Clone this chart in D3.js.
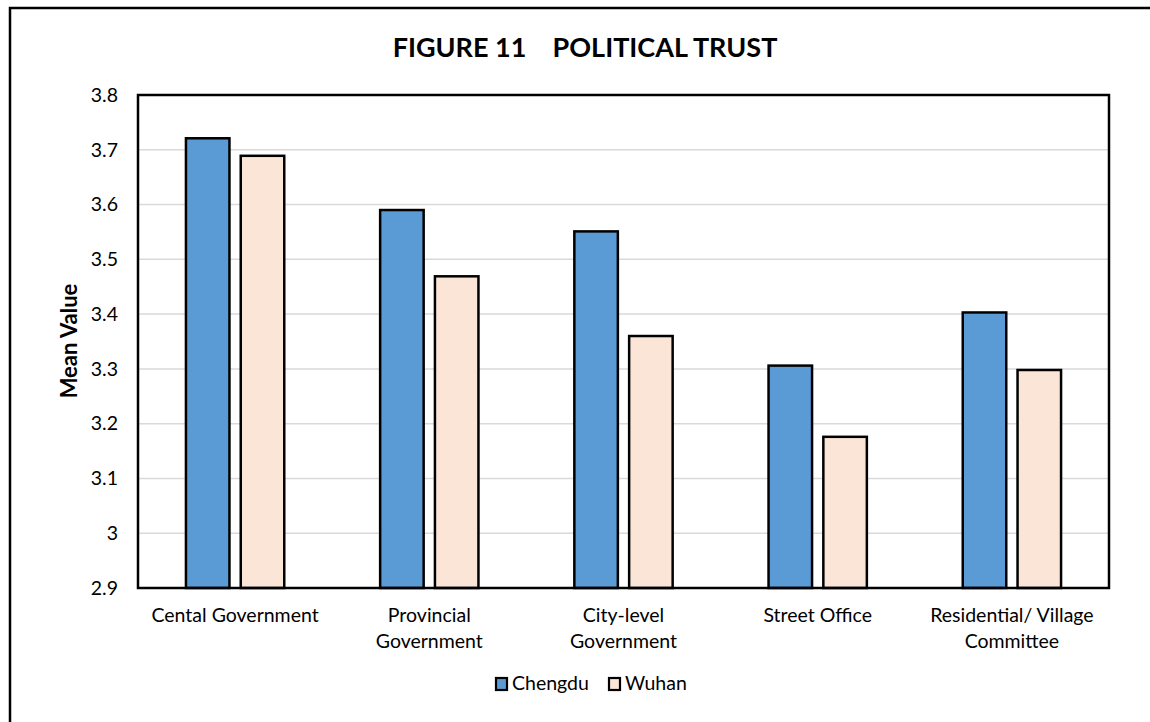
<!DOCTYPE html>
<html>
<head>
<meta charset="utf-8">
<script src="https://cdn.jsdelivr.net/npm/d3@7"></script>
<style>
  body { margin: 0; background: #fff; }
  svg { display: block; font-family: Lato, "Open Sans", sans-serif; }
</style>
</head>
<body>
<svg width="1150" height="722"></svg>
<script>
// data
var categories = ["Cental Government", "Provincial Government", "City-level Government", "Street Office", "Residential/ Village Committee"];
var catLines = [["Cental Government"], ["Provincial", "Government"], ["City-level", "Government"], ["Street Office"], ["Residential/ Village", "Committee"]];
var seriesNames = ["Chengdu", "Wuhan"];
var chengdu = [3.721, 3.590, 3.551, 3.306, 3.403];
var wuhan = [3.689, 3.469, 3.360, 3.176, 3.298];
var yTicks = [2.9, 3, 3.1, 3.2, 3.3, 3.4, 3.5, 3.6, 3.7, 3.8];
var colors = ["#5b9bd5", "#fbe5d6"];

var svg = d3.select("svg");

// outer frame (runs off the right and bottom of the page)
svg.append("rect")
  .attr("x", 10).attr("y", 8)
  .attr("width", 1160).attr("height", 740)
  .attr("fill", "none").attr("stroke", "#000").attr("stroke-width", 2.5);

var pLeft = 138, pRight = 1109, pTop = 95, pBottom = 588;

var x = d3.scaleBand().domain(categories).range([pLeft, pRight]);
var x1 = d3.scaleBand().domain(seriesNames).range([0, x.bandwidth()]).paddingInner(0.206).paddingOuter(0.875);
var y = d3.scaleLinear().domain([2.9, 3.8]).range([pBottom, pTop]);

// gridlines
svg.append("g")
  .selectAll("line")
  .data(yTicks)
  .enter().append("line")
    .attr("x1", pLeft).attr("x2", pRight)
    .attr("y1", function(d) { return y(d); })
    .attr("y2", function(d) { return y(d); })
    .attr("stroke", "#d9d9d9").attr("stroke-width", 1.5);

// y axis labels
var yAxis = d3.axisLeft(y).tickValues(yTicks).tickSize(0).tickPadding(20).tickFormat(d3.format("~g"));
var ya = svg.append("g").attr("transform", "translate(" + pLeft + ",0)").call(yAxis);
ya.select(".domain").remove();
ya.selectAll("text").attr("font-size", 19.5).attr("fill", "#000").style("font-family", "Lato, sans-serif");

// bars
var rows = categories.map(function(c, i) { return {cat: c, vals: [chengdu[i], wuhan[i]]}; });
var groups = svg.append("g").selectAll("g")
  .data(rows)
  .enter().append("g")
    .attr("transform", function(d) { return "translate(" + x(d.cat) + ",0)"; });

groups.selectAll("rect")
  .data(function(d) { return d.vals.map(function(v, j) { return {name: seriesNames[j], v: v, j: j}; }); })
  .enter().append("rect")
    .attr("x", function(d) { return x1(d.name); })
    .attr("width", x1.bandwidth())
    .attr("y", function(d) { return y(d.v); })
    .attr("height", function(d) { return y(2.9) - y(d.v); })
    .attr("fill", function(d) { return colors[d.j]; })
    .attr("stroke", "#000").attr("stroke-width", 2.5);

// plot border
svg.append("rect")
  .attr("x", pLeft).attr("y", pTop)
  .attr("width", pRight - pLeft).attr("height", pBottom - pTop)
  .attr("fill", "none").attr("stroke", "#000").attr("stroke-width", 2.5);

// category labels
svg.append("g").selectAll("text")
  .data(categories)
  .enter().append("text")
    .attr("x", function(d) { return x(d) + x.bandwidth() / 2; })
    .attr("y", 622)
    .attr("text-anchor", "middle")
    .attr("font-size", 19.5)
    .each(function(d, i) {
      var t = d3.select(this);
      catLines[i].forEach(function(line, k) {
        t.append("tspan").attr("x", x(d) + x.bandwidth() / 2).attr("dy", k === 0 ? 0 : 26).text(line);
      });
    });

// title
svg.append("text")
  .attr("x", 585).attr("y", 57)
  .attr("text-anchor", "middle")
  .attr("font-size", 27).attr("font-weight", "bold")
  .attr("xml:space", "preserve")
  .text("FIGURE 11    POLITICAL TRUST");

// y axis title
svg.append("text")
  .attr("transform", "translate(77,341) rotate(-90)")
  .attr("text-anchor", "middle")
  .attr("font-size", 22).attr("font-weight", "bold")
  .text("Mean Value");

// legend
var legend = svg.append("g").attr("transform", "translate(495,690)");
var lx = [0, 113];
seriesNames.forEach(function(name, i) {
  legend.append("rect")
    .attr("x", lx[i] + 1).attr("y", -12)
    .attr("width", 11).attr("height", 12)
    .attr("fill", colors[i]).attr("stroke", "#000").attr("stroke-width", 2.2);
  legend.append("text")
    .attr("x", lx[i] + 17).attr("y", 0)
    .attr("font-size", 19.5)
    .text(name);
});
</script>
</body>
</html>
